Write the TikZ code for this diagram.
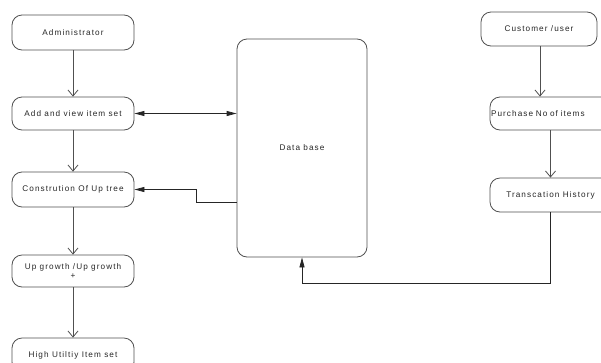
\documentclass[tikz,border=0pt]{standalone}
\usepackage{fontspec}
\setmainfont{Liberation Sans}[LetterSpace=13]
\usetikzlibrary{arrows.meta,calc}
\definecolor{ln}{HTML}{505050}
\definecolor{tx}{HTML}{262626}
\tikzset{
  box/.style={draw=ln, line width=0.8pt, rounded corners=10pt, rectangle, inner sep=1pt,
    font=\fontsize{8.2}{9.5}\selectfont, text=tx, align=center},
  flow/.style={draw=ln, line width=0.8pt, -{Straight Barb[length=6pt,width=10pt]}},
  link/.style={draw=black!85, line width=0.8pt, -{Triangle[length=10pt,width=5pt]}},
}
\begin{document}
\begin{tikzpicture}[x=1pt,y=-1pt]
\useasboundingbox (0,0) rectangle (601,362);
\node[box, minimum width=122pt, minimum height=35pt] (admin) at (73,32.5) {Administrator};
\node[box, minimum width=122pt, minimum height=33pt] (add) at (73,113.5) {Add and view item set};
\node[box, minimum width=122pt, minimum height=35pt] (cons) at (73,189.5) {Constrution Of Up tree};
\node[box, minimum width=122pt, minimum height=32pt] (up) at (73,271) {Up growth /Up growth\\+};
\node[box, minimum width=122pt, minimum height=34pt] (high) at (73,355) {High Utiltiy Item set};
\node[box, minimum width=130pt, minimum height=218pt] (db) at (302,148) {Data base};
\node[box, minimum width=116pt, minimum height=34pt] (cust) at (539,29) {Customer /user};
\node[box, minimum height=33pt, text width=119pt, align=left] (purch) at (550.5,113.5) {Purchase No of items};
\node[box, minimum width=121pt, minimum height=34pt] (trans) at (550.5,195) {Transcation History};

\draw[flow] (admin) -- (add);
\draw[flow] (add) -- (cons);
\draw[flow] (cons) -- (up);
\draw[flow] (up) -- (high);
\draw[flow] ([xshift=1pt]cust.south) -- ([xshift=1pt]cust.south |- purch.north);
\draw[flow] (purch) -- (trans);

\draw[link, {Triangle[length=10pt,width=5pt]}-{Triangle[length=10pt,width=5pt]}] (add.east) -- (add.east -| db.west);
\draw[link] ([yshift=-54pt]db.west) -- ++(-40,0) |- (cons.east);
\draw[link] (trans.south) -- ++(0,71) -| (db.south);
\end{tikzpicture}
\end{document}
